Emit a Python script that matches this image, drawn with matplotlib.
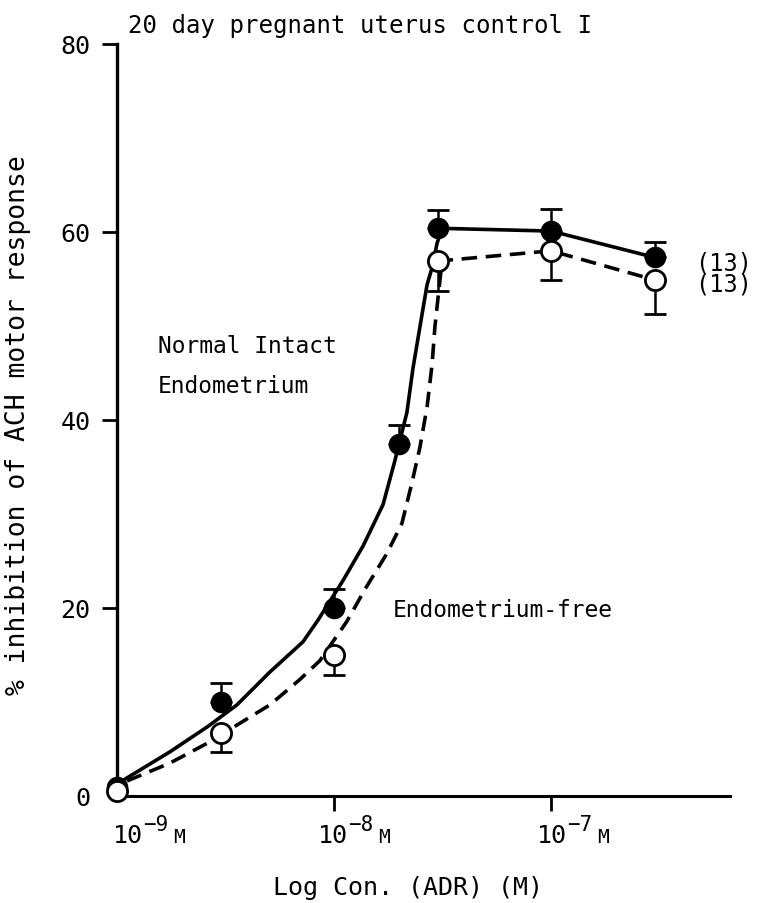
import numpy as np
import matplotlib.pyplot as plt

plt.rcParams['font.family'] = 'DejaVu Sans Mono'

# concentrations of ADR (M) and % inhibition
conc = [1e-9, 3e-9, 1e-8, 2e-8, 3e-8, 1e-7, 3e-7]
intact_mean = [1.0, 10.0, 20.0, 37.5, 60.4, 60.1, 57.3]
intact_sem = [0, 2.0, 2.0, 2.0, 1.9, 2.3, 1.6]

free_conc = [1e-9, 3e-9, 1e-8, 3e-8, 1e-7, 3e-7]
free_mean = [0.5, 6.7, 15.0, 56.9, 58.0, 54.9]
free_sem = [0, 2.0, 2.1, 3.2, 3.1, 3.6]

# hand drawn fitted curves (log10 conc, %)
intact_curve_logc = [-8.977, -8.756, -8.581, -8.447, -8.295, -8.143, -8.074,
                     -7.959, -7.866, -7.774, -7.719, -7.664, -7.636, -7.604,
                     -7.571, -7.548, -7.525, -7.502]
intact_curve_pct = [1.6, 4.7, 7.4, 9.7, 13.2, 16.4, 18.7,
                    22.9, 26.6, 31.0, 35.7, 40.8, 45.5, 49.9,
                    54.4, 56.2, 58.8, 60.4]
free_curve_logc = [-8.954, -8.756, -8.585, -8.479, -8.295, -8.157, -8.065,
                   -7.940, -7.857, -7.756, -7.687, -7.641, -7.604, -7.571,
                   -7.548, -7.535, -7.521, -7.502]
free_curve_pct = [1.6, 3.5, 5.6, 7.1, 9.7, 12.4, 14.4,
                  18.6, 22.0, 25.8, 29.0, 33.3, 37.1, 41.4,
                  45.9, 49.9, 52.9, 56.9]

xtick_vals = [1e-9, 1e-8, 1e-7]
xtick_exp = ['\u22129', '\u22128', '\u22127']
ytick_vals = [0, 20, 40, 60, 80]

W, H = 758, 904
fig = plt.figure(figsize=(W / 100, H / 100), dpi=100)
ax = fig.add_axes([117 / W, 1 - 797 / H, 613 / W, 752 / H])
ax.set_xscale('log')
ax.set_xlim(1e-9, 10 ** -6.175)
ax.set_ylim(0, 80)

dash = (0, (4.3, 2.4))

ax.plot(10 ** np.array(intact_curve_logc), intact_curve_pct, color='k', lw=2.6)
ax.plot(conc[4:], intact_mean[4:], color='k', lw=2.6)
ax.plot(10 ** np.array(free_curve_logc), free_curve_pct, color='k', lw=2.6, ls=dash)
ax.plot(free_conc[3:], free_mean[3:], color='k', lw=2.6, ls=dash)

ax.errorbar(conc[1:], intact_mean[1:], yerr=[np.zeros(len(conc) - 1), intact_sem[1:]],
            fmt='none', ecolor='k', elinewidth=1.8, capsize=8, capthick=2)
ax.errorbar(free_conc[1:], free_mean[1:], yerr=[free_sem[1:], np.zeros(len(free_conc) - 1)],
            fmt='none', ecolor='k', elinewidth=1.8, capsize=8, capthick=2)

ax.plot(conc, intact_mean, 'o', color='k', ms=14.5, clip_on=False, zorder=5)
ax.plot(free_conc, free_mean, 'o', mfc='white', mec='k', mew=2, ms=14.5,
        clip_on=False, zorder=6)

for s in ['top', 'right']:
    ax.spines[s].set_visible(False)
ax.spines['left'].set_linewidth(2.4)
ax.spines['bottom'].set_linewidth(2.2)

ax.set_yticks(ytick_vals)
ax.tick_params(axis='y', direction='out', length=11, width=2, labelsize=18, pad=8)
ax.yaxis.get_major_ticks()[0].tick1line.set_visible(False)

ax.set_xticks(xtick_vals)
ax.minorticks_off()
ax.tick_params(axis='x', direction='out', length=11, width=2, labelbottom=False)
ax.xaxis.get_major_ticks()[0].tick1line.set_visible(False)

# tick labels like "10^-9 M", built from three pieces
for c, e, dx in zip(xtick_vals, xtick_exp, [-4, -16, -14]):
    base = dict(xy=(c, 0), xycoords=('data', 'axes fraction'), textcoords='offset points',
                ha='left', va='baseline', annotation_clip=False)
    ax.annotate('10', xytext=(dx * 0.72, -46 * 0.72), fontsize=18, **base)
    ax.annotate(e, xytext=((dx + 30) * 0.72, -34 * 0.72), fontsize=15, **base)
    ax.annotate('M', xytext=((dx + 60) * 0.72, -46 * 0.72), fontsize=14, **base)

fig.text(18 / W, 1 - 425 / H, '% inhibition of ACH motor response', rotation=90,
         ha='center', va='center', fontsize=19)
fig.text(408 / W, 1 - 888 / H, 'Log Con. (ADR) (M)', ha='center', va='center', fontsize=18)
fig.text(128 / W, 1 - 33 / H, '20 day pregnant uterus control I', ha='left',
         va='baseline', fontsize=17.3)
fig.text(158 / W, 1 - 353 / H, 'Normal Intact', ha='left', va='baseline', fontsize=16.5)
fig.text(158 / W, 1 - 393 / H, 'Endometrium', ha='left', va='baseline', fontsize=16.5)
fig.text(393 / W, 1 - 617 / H, 'Endometrium-free', ha='left', va='baseline', fontsize=16.5)
fig.text(695 / W, 1 - 263 / H, '(13)', ha='left', va='center', fontsize=17)
fig.text(695 / W, 1 - 285 / H, '(13)', ha='left', va='center', fontsize=17)

fig.savefig('out.png', dpi=100)
